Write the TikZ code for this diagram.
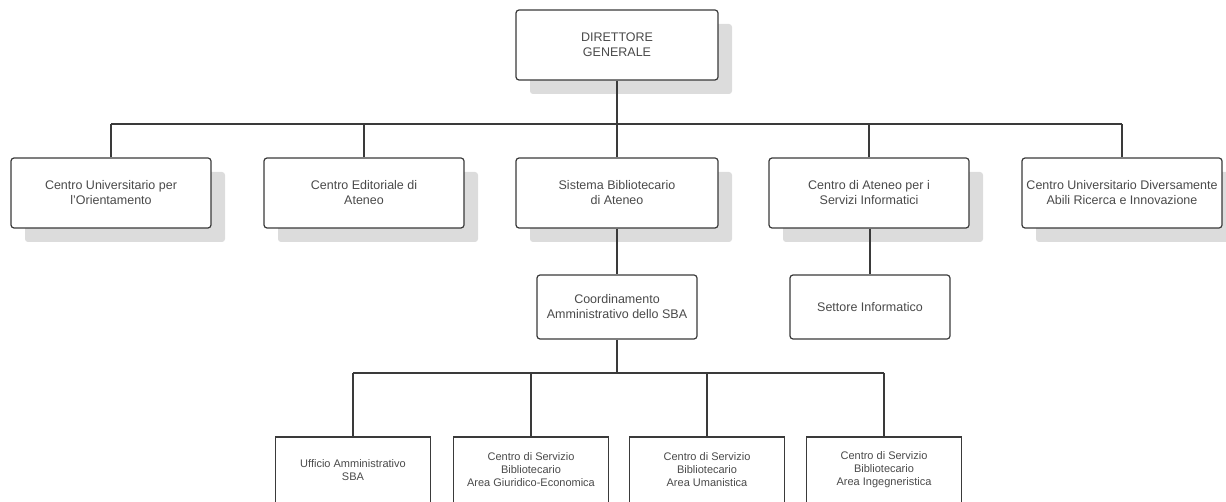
\documentclass[tikz,border=0pt]{standalone}
\usepackage{fontspec}
\setmainfont{Liberation Sans}
\usetikzlibrary{shadows}
\definecolor{txt}{HTML}{4A4A4A}
\definecolor{edge}{HTML}{3A3A3A}
\definecolor{shade}{HTML}{DCDCDC}
\begin{document}
\begin{tikzpicture}[x=1pt,y=-1pt,
  box/.style={draw=edge, line width=1.2pt, fill=white, rounded corners=3pt,
    inner sep=0pt, align=center, text=txt, font=\fontsize{12.5}{15}\selectfont},
  shbox/.style={box, minimum width=200pt, minimum height=70pt,
    drop shadow={shadow xshift=14pt, shadow yshift=-14pt, fill=shade, opacity=1}},
  midbox/.style={box, minimum width=160pt, minimum height=64pt},
  lowbox/.style={box, rounded corners=0pt, minimum width=155pt, minimum height=66pt,
    font=\fontsize{11}{13}\selectfont},
  conn/.style={draw=edge, line width=1.2pt}]
\useasboundingbox (0,0) rectangle (1226,502);
\begin{scope}
\clip (0,0) rectangle (1226,502);
% top
\node[shbox, minimum width=202pt] (dg) at (617,45) {DIRETTORE\\GENERALE};
% row 2
\node[shbox] (cuo) at (111,193) {Centro Universitario per\\l'Orientamento};
\node[shbox] (cea) at (364,193) {Centro Editoriale di\\Ateneo};
\node[shbox, minimum width=202pt] (sba) at (617,193) {Sistema Bibliotecario\\di Ateneo};
\node[shbox] (csi) at (869,193) {Centro di Ateneo per i\\Servizi Informatici};
\node[shbox] (cud) at (1122,193) {Centro Universitario Diversamente\\Abili Ricerca e Innovazione};
% row 3
\node[midbox] (coord) at (617,307) {Coordinamento\\Amministrativo dello SBA};
\node[midbox] (sett) at (870,307) {Settore Informatico};
% row 4
\node[lowbox] (uff) at (353,470) {Ufficio Amministrativo\\SBA};
\node[lowbox] (cge) at (531,470) {Centro di Servizio\\Bibliotecario\\Area Giuridico-Economica};
\node[lowbox] (cum) at (707,470) {Centro di Servizio\\Bibliotecario\\Area Umanistica};
\node[lowbox] (cin) at (884,470) {Centro di Servizio\\Bibliotecario\\Area Ingegneristica};
% connectors
\coordinate (bus1) at (617,124);
\coordinate (bus2) at (617,373);
\draw[conn] (dg.south) -- (bus1);
\foreach \n in {cuo,cea,sba,csi,cud}{
  \draw[conn] (\n.north) -- (\n.north |- bus1);
}
\draw[conn] (cuo.north |- bus1) -- (cud.north |- bus1);
\draw[conn] (sba.south) -- (coord.north);
\draw[conn] (csi.south -| sett.north) -- (sett.north);
\draw[conn] (coord.south) -- (bus2);
\foreach \n in {uff,cge,cum,cin}{
  \draw[conn] (\n.north) -- (\n.north |- bus2);
}
\draw[conn] (uff.north |- bus2) -- (cin.north |- bus2);
\end{scope}
\end{tikzpicture}
\end{document}
